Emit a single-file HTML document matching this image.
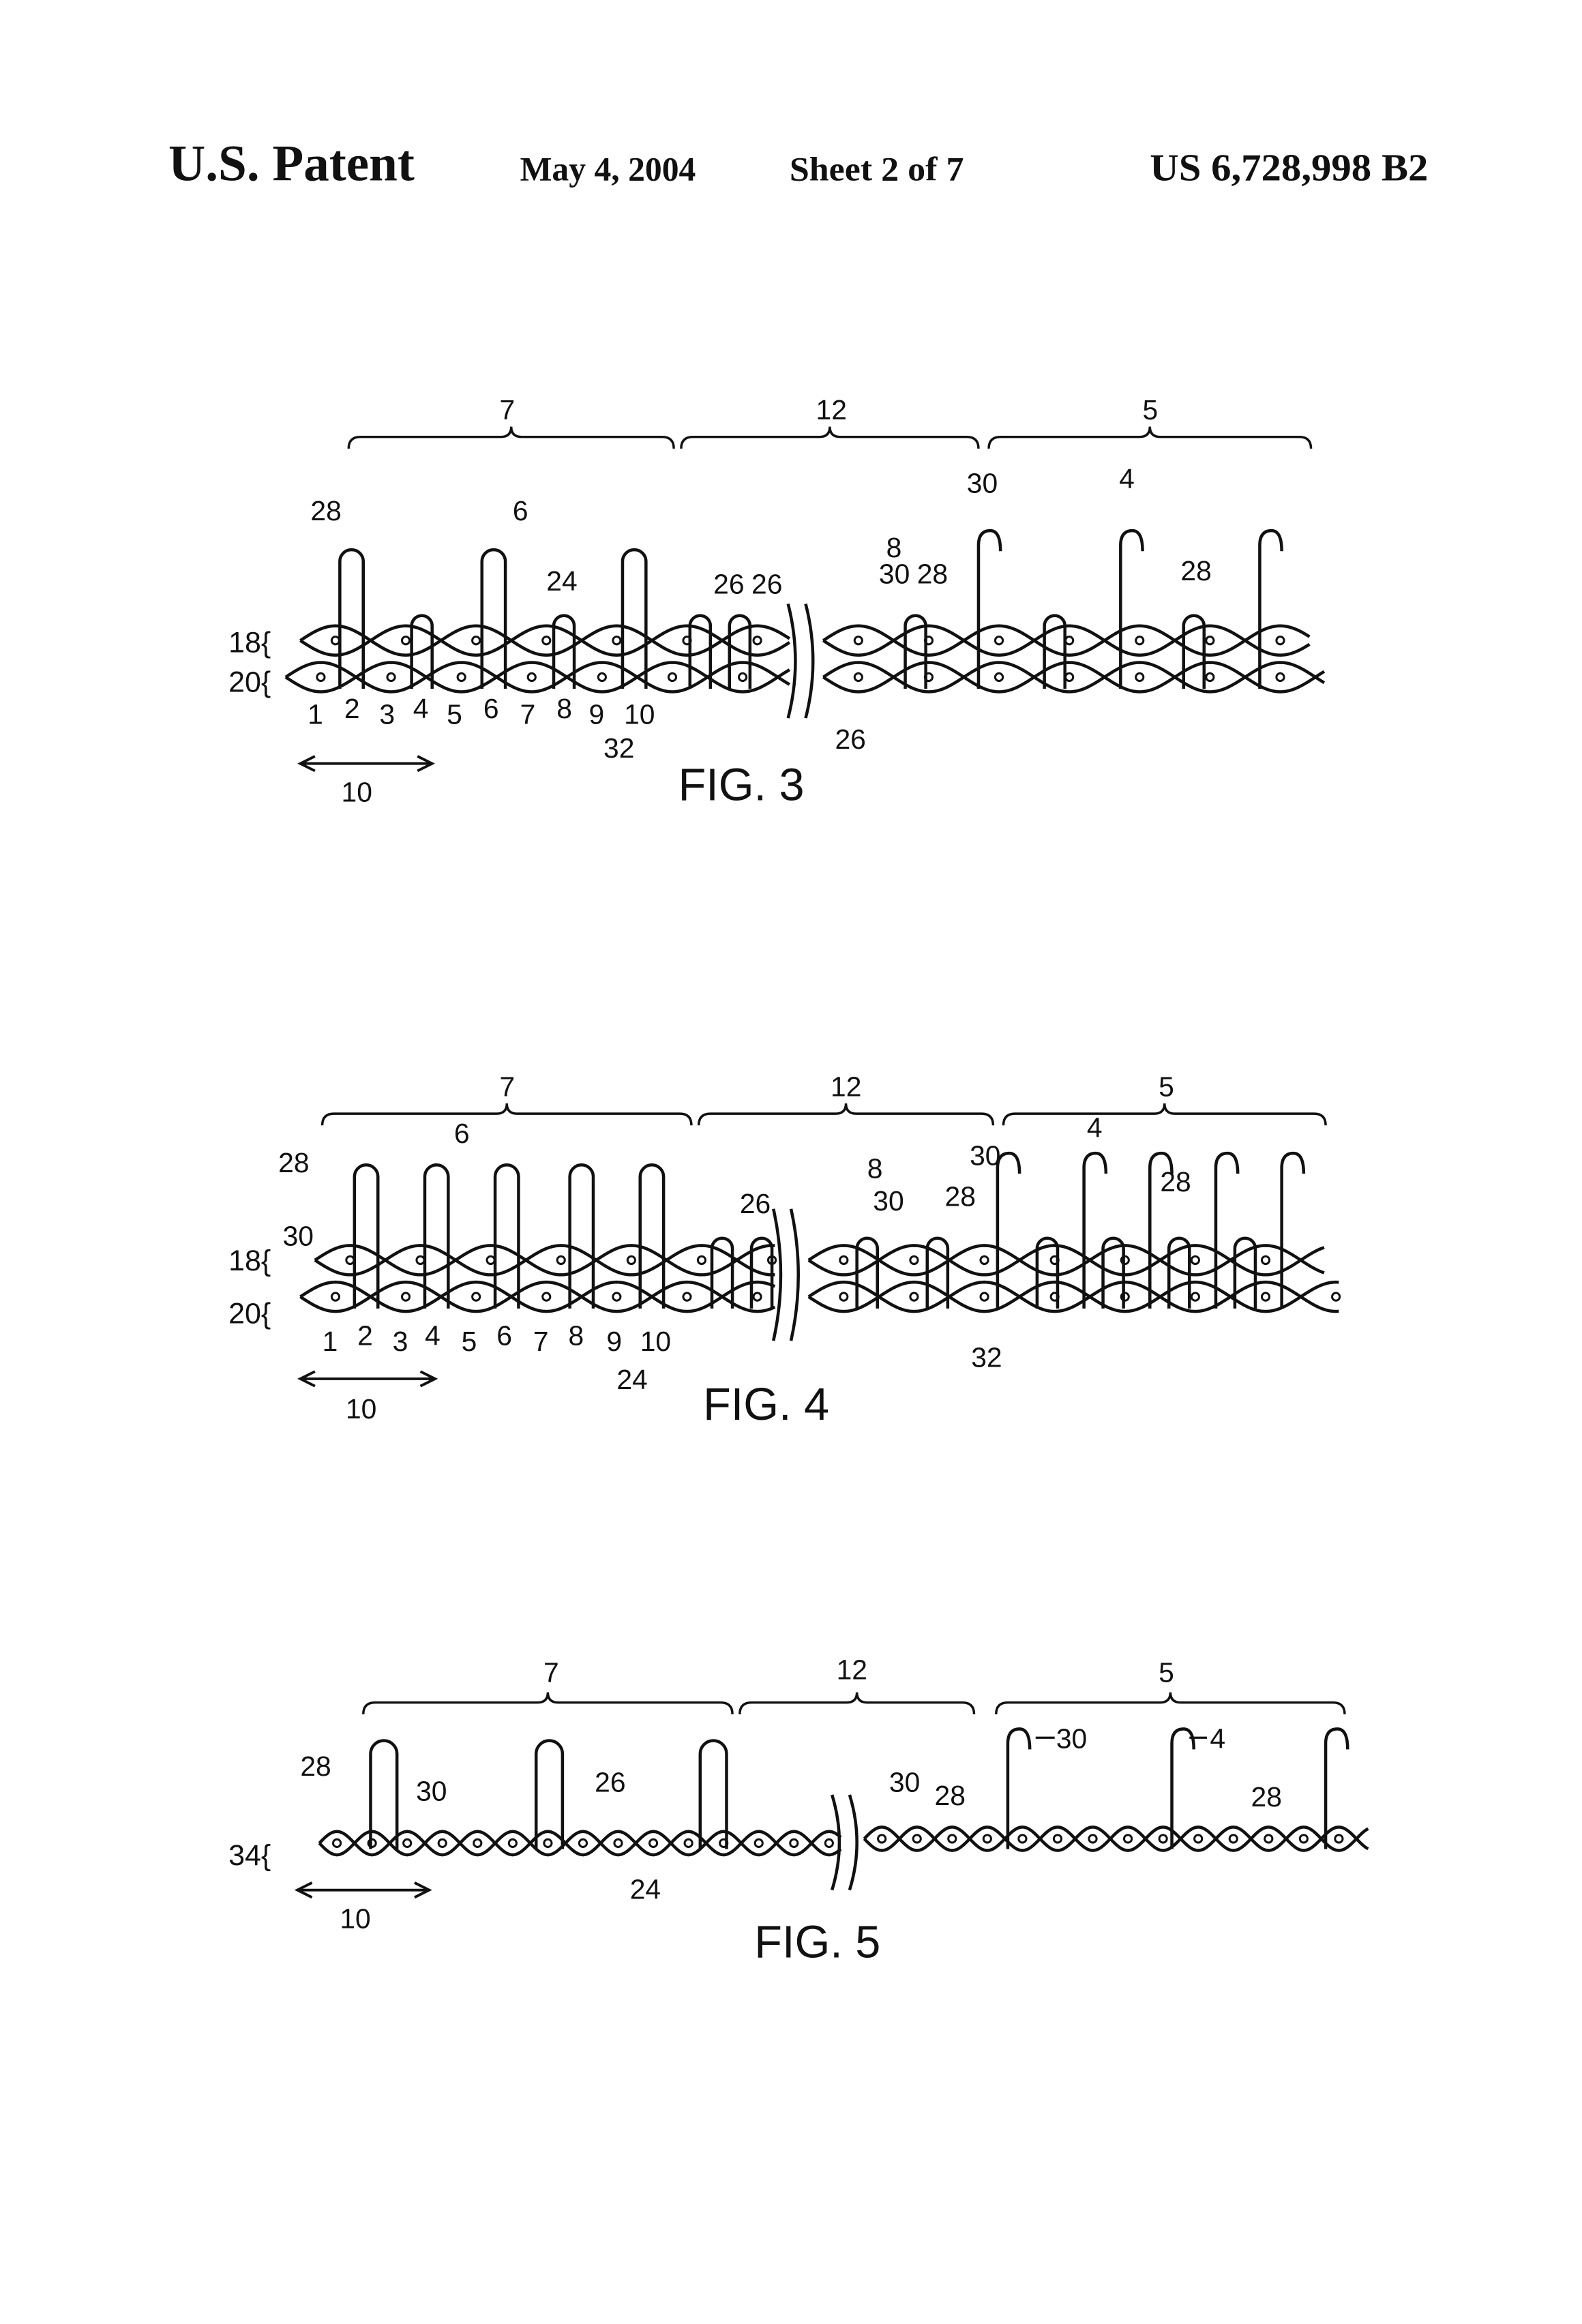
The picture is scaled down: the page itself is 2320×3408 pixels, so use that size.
<!DOCTYPE html>
<html><head><meta charset="utf-8"><style>
html,body{margin:0;padding:0;background:#fff;}
svg{display:block;}
text{font-family:"Liberation Sans",sans-serif;fill:#111;}
.hd{font-family:"Liberation Serif",serif;font-weight:bold;}
</style></head><body>
<svg id="s" width="2320" height="3408" viewBox="0 0 1080 1586" xmlns="http://www.w3.org/2000/svg">
<g>
<text class="hd" x="115" y="123" font-size="35" textLength="168" lengthAdjust="spacingAndGlyphs">U.S. Patent</text>
<text class="hd" x="355" y="123" font-size="23" textLength="120" lengthAdjust="spacingAndGlyphs">May 4, 2004</text>
<text class="hd" x="539" y="123" font-size="23" textLength="119" lengthAdjust="spacingAndGlyphs">Sheet 2 of 7</text>
<text class="hd" x="785" y="123" font-size="26" textLength="190" lengthAdjust="spacingAndGlyphs">US 6,728,998 B2</text>
</g>
<g id="f" fill="none" stroke="#111" stroke-width="2.1"></g>
<g id="t"></g>
</svg>
<script>
// figure layout arrays
const fig3TallLoops=[240,337,433];
const fig3Hooks=[668,765,860];
const fig3SmallLoops=[288,385,478,505,625,720,815];
const fig4TallLoops=[250,298,346,397,445];
const fig4Hooks=[681,740,785,830,875];
const fig4SmallLoops=[493,520,592,640,715,760,805,850];
const fig5TallLoops=[262,375,487];
const fig5Hooks=[688,800,905];

const NS="http://www.w3.org/2000/svg";
const g=document.getElementById('f'), tg=document.getElementById('t');
function P(d,name,w){const p=document.createElementNS(NS,'path');p.setAttribute('d',d);if(w)p.setAttribute('stroke-width',w);


g.appendChild(p);return p;}
function T(x,y,s,sz,name){const t=document.createElementNS(NS,'text');t.setAttribute('x',x);t.setAttribute('y',y);t.setAttribute('font-size',sz||19);t.textContent=s;


tg.appendChild(t);}
function brace(x1,x2,y){const m=(x1+x2)/2;P(`M${x1},${y+8}Q${x1},${y} ${x1+8},${y}L${m-7},${y}Q${m},${y} ${m},${y-7}Q${m},${y} ${m+7},${y}L${x2-8},${y}Q${x2},${y} ${x2},${y+8}`,'brace',1.6);}
function row(x0,x1,y,per,amp,dots){let a='',b='';for(let x=x0;x<=x1;x+=2){const v=Math.sin((x-x0)/per*2*Math.PI)*amp;a+=(a?'L':'M')+x+','+(y+v);b+=(b?'L':'M')+x+','+(y-v);}
P(a,'strand');P(b,'strand');
if(dots){for(let x=x0+per/4;x<x1;x+=per/2){const c=document.createElementNS(NS,'circle');c.setAttribute('cx',x);c.setAttribute('cy',y);c.setAttribute('r',2.6);c.setAttribute('stroke-width',1.4);


g.appendChild(c);}}}
function loop(x,top,bot,w){P(`M${x-w},${bot}L${x-w},${top+w}A${w} ${w} 0 0 1 ${x+w},${top+w}L${x+w},${bot}`,'pile-loop');}
function hook(x,top,bot){P(`M${x},${bot}L${x},${top+10}Q${x},${top} ${x+8},${top}Q${x+15},${top} ${x+15},${top+14}`,'cut-pile-hook');}
function brk(x,y1,y2){P(`M${x},${y1}Q${x+10},${(y1+y2)/2} ${x},${y2}`,'break-mark');P(`M${x+12},${y1}Q${x+22},${(y1+y2)/2} ${x+12},${y2}`,'break-mark');}
function arrow(x1,x2,y){P(`M${x1},${y}L${x2},${y}`,'scale-arrow',1.8);P(`M${x1+10},${y-5}L${x1},${y}L${x1+10},${y+5}`,'arrow-head',1.8);P(`M${x2-10},${y-5}L${x2},${y}L${x2-10},${y+5}`,'arrow-head',1.8);}

// FIG 3
brace(238,460,298);brace(465,668,298);brace(675,895,298);
T(341,286,'7',19,'brace-label-7');T(557,286,'12',19,'brace-label-12');T(780,286,'5',19,'brace-label-5');
row(205,540,437,96,10,true);row(195,540,462,96,10,true);row(562,895,437,96,10,true);row(562,905,462,96,10,true);
brk(538,412,490);
fig3TallLoops.forEach(x=>loop(x,375,470,8));
fig3Hooks.forEach(x=>hook(x,362,470));
fig3SmallLoops.forEach(x=>loop(x,420,470,7));
T(212,355,'28');T(350,355,'6');T(373,403,'24');T(487,405,'26');T(513,405,'26');T(660,336,'30');T(764,333,'4');
T(605,380,'8');T(600,398,'30');T(626,398,'28');T(806,396,'28');
T(156,445,'18{',20,'row-label-18');T(156,472,'20{',20,'row-label-20');
['1','2','3','4','5','6','7','8','9','10'].forEach((s,i)=>T([210,235,259,282,305,330,355,380,402,426][i],[494,490,494,490,494,490,494,490,494,494][i],s,19,'needle-number'));
T(412,517,'32');T(570,511,'26');
arrow(205,295,521);T(233,547,'10');
T(463,546,'FIG. 3',31,'figure-title-3');

// FIG 4
brace(220,472,760);brace(477,678,760);brace(685,905,760);
T(341,748,'7',19,'brace-label-7');T(567,748,'12',19,'brace-label-12');T(791,748,'5',19,'brace-label-5');
row(215,530,860,96,10,true);row(205,530,885,96,10,true);row(552,905,860,96,10,true);row(552,915,885,96,10,true);
brk(528,825,915);
fig4TallLoops.forEach(x=>loop(x,795,893,8));
fig4Hooks.forEach(x=>hook(x,787,893));
fig4SmallLoops.forEach(x=>loop(x,845,893,7));
T(190,800,'28');T(310,780,'6');T(193,850,'30');T(505,828,'26');T(592,804,'8');T(596,826,'30');T(645,823,'28');
T(662,795,'30');T(742,776,'4');T(792,813,'28');
T(156,867,'18{',20,'row-label-18');T(156,903,'20{',20,'row-label-20');
['1','2','3','4','5','6','7','8','9','10'].forEach((s,i)=>T([220,244,268,290,315,339,364,388,414,437][i],[922,918,922,918,922,918,922,918,922,922][i],s,19,'needle-number'));
T(421,948,'24');T(663,933,'32');
arrow(205,297,941);T(236,968,'10');
T(480,969,'FIG. 4',31,'figure-title-4');

// FIG 5
brace(248,500,1162);brace(505,665,1162);brace(680,918,1162);
T(371,1148,'7',19,'brace-label-7');T(571,1146,'12',19,'brace-label-12');T(791,1148,'5',19,'brace-label-5');
row(218,575,1258,48,8,true);row(590,935,1255,48,8,true);
brk(568,1225,1290);
fig5TallLoops.forEach(x=>loop(x,1188,1262,9));
fig5Hooks.forEach(x=>hook(x,1180,1262));
T(205,1212,'28');T(284,1229,'30');T(406,1223,'26');T(430,1296,'24');T(607,1223,'30');T(638,1232,'28');
T(721,1193,'30');T(826,1193,'4');T(854,1233,'28');P('M707,1186L720,1186','leader',1.5);P('M812,1186L824,1186','leader',1.5);
T(156,1273,'34{',20,'row-label-34');
arrow(203,293,1290);T(232,1316,'10');
T(515,1336,'FIG. 5',31,'figure-title-5');
</script>
</body></html>
